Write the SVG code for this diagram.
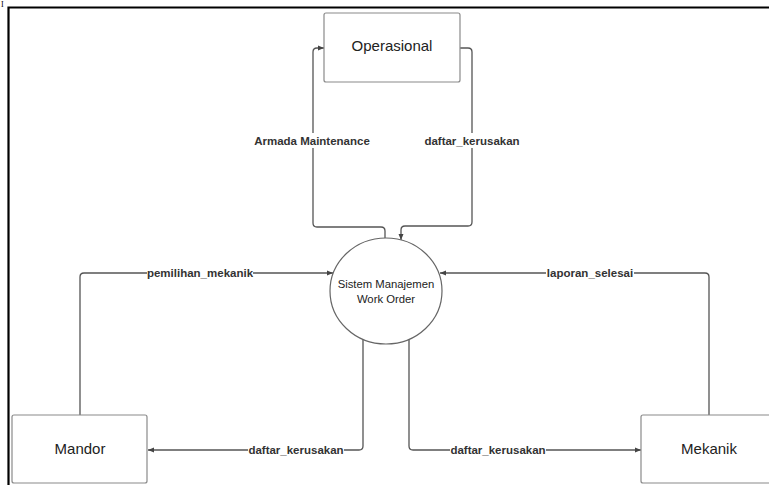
<svg xmlns="http://www.w3.org/2000/svg" width="769" height="485" viewBox="0 0 769 485">
<defs>
<marker id="arr" markerWidth="8" markerHeight="8" refX="7" refY="4" orient="auto" markerUnits="userSpaceOnUse">
<path d="M1,1.5 L7,4 L1,6.5 Z" fill="#444"/>
</marker>
<style>
.box{fill:#fff;stroke:#8a8a8a;stroke-width:1.2}
.node{font-family:"Liberation Sans",Arial,sans-serif;fill:#222;text-anchor:middle}
.conn{fill:none;stroke:#555;stroke-width:1.3;marker-end:url(#arr)}
.lbl{font-family:"Liberation Sans",Arial,sans-serif;font-size:11.5px;font-weight:bold;fill:#333;text-anchor:middle}
.lblbg{fill:#fff}
.frame{stroke:#000;stroke-width:2.2;fill:none}
</style>
</defs>
<rect width="769" height="485" fill="#fff"/>
<text x="1" y="6.5" font-family="Liberation Serif,serif" font-size="8" fill="#000">I</text>
<path class="frame" d="M8.5,485 L8.5,7.5 L769,7.5"/>

<g id="connectors">
<path class="conn" d="M385,238 L385,231 Q385,227 381,227 L317,227 Q313,227 313,223 L313,52 Q313,48 317,48 L324,48"/>
<path class="conn" d="M460,48 L468,48 Q472,48 472,52 L472,222 Q472,226 468,226 L405,226 Q401,226 401,230 L401,240"/>
<path class="conn" d="M80,415 L80,277 Q80,273 84,273 L333,273"/>
<path class="conn" d="M709,415 L709,277 Q709,273 705,273 L440,273"/>
<path class="conn" d="M363,339 L363,446 Q363,450 359,450 L148,450"/>
<path class="conn" d="M409,339 L409,446 Q409,450 413,450 L641,450"/>
<rect class="lblbg" x="254" y="133" width="116" height="15"/>
<text class="lbl" x="312" y="145">Armada Maintenance</text>
<rect class="lblbg" x="423" y="133" width="98" height="15"/>
<text class="lbl" x="472" y="145">daftar_kerusakan</text>
<rect class="lblbg" x="147" y="266" width="106" height="15"/>
<text class="lbl" x="200" y="277">pemilihan_mekanik</text>
<rect class="lblbg" x="546" y="266" width="88" height="15"/>
<text class="lbl" x="590" y="277">laporan_selesai</text>
<rect class="lblbg" x="248" y="443" width="96" height="15"/>
<text class="lbl" x="296" y="454">daftar_kerusakan</text>
<rect class="lblbg" x="450" y="443" width="96" height="15"/>
<text class="lbl" x="498" y="454">daftar_kerusakan</text>
</g>

<g id="operasional">
<rect class="box" x="324" y="13" width="136" height="69" rx="2"/>
<text class="node" x="392" y="51" font-size="15">Operasional</text>
</g>
<g id="sistem">
<ellipse cx="386" cy="291" rx="56" ry="53" fill="#fff" stroke="#666" stroke-width="1.2"/>
<text class="node" x="386" y="288" font-size="11.3">Sistem Manajemen</text>
<text class="node" x="386" y="303" font-size="11.3">Work Order</text>
</g>
<g id="mandor">
<rect class="box" x="12" y="415" width="135" height="68" rx="2"/>
<text class="node" x="80" y="454" font-size="15">Mandor</text>
</g>
<g id="mekanik">
<rect class="box" x="641" y="415" width="140" height="68" rx="2"/>
<text class="node" x="709" y="454" font-size="15">Mekanik</text>
</g>
</svg>
